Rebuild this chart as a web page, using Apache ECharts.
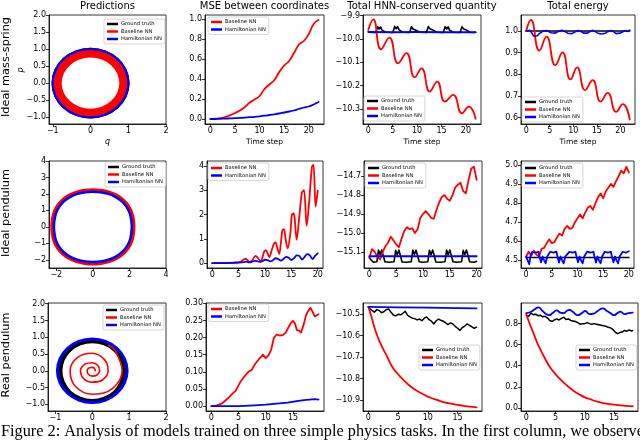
<!DOCTYPE html>
<html><head><meta charset="utf-8">
<script src="https://cdn.jsdelivr.net/npm/echarts@6/dist/echarts.min.js"></script>
<style>html,body{margin:0;padding:0;background:#fff}#c{width:640px;height:442px}</style>
</head><body><div id="c"></div>
<script>
// ================= DATA =================
const colTitles = ['Predictions','MSE between coordinates','Total HNN-conserved quantity','Total energy'];
const rowTitles = ['Ideal mass-spring','Ideal pendulum','Real pendulum'];
const names = ['Ground truth','Baseline NN','Hamiltonian NN'];
const caption = 'Figure 2: Analysis of models trained on three simple physics tasks. In the first column, we observe';

// --- Row 1: ideal mass-spring, phase space (q, p)
const msTrueQ = [0.924,1,0.924,0.707,0.383,0,-0.383,-0.707,-0.924,-1,-0.924,-0.707,-0.383,0,0.383,0.707,0.924,1,0.924];
const msTrueP = [-0.383,0,0.383,0.707,0.924,1,0.924,0.707,0.383,0,-0.383,-0.707,-0.924,-1,-0.924,-0.707,-0.383,0,0.383];
const msBaseQ = [0.804,0.87,0.804,0.615,0.333,0,-0.333,-0.615,-0.804,-0.87,-0.804,-0.615,-0.333,0,0.333,0.615,0.804,0.87,0.804];
const msBaseP = [-0.333,0,0.333,0.615,0.804,0.87,0.804,0.615,0.333,0,-0.333,-0.615,-0.804,-0.87,-0.804,-0.615,-0.333,0,0.333];
const msHnnQ = [0.929,1.005,0.929,0.711,0.385,0,-0.385,-0.711,-0.929,-1.005,-0.929,-0.711,-0.385,0,0.385,0.711,0.929,1.005,0.929];
const msHnnP = [-0.385,0,0.385,0.711,0.929,1.005,0.929,0.711,0.385,0,-0.385,-0.711,-0.929,-1.005,-0.929,-0.711,-0.385,0,0.385];

// --- Row 1: time series
const msT = [0,1,2,3,4,5,6,7,8,9,10,11,12,13,14,15,16,17,18,19,20,21,22];
const msMseBase = [0,0.003,0.008,0.02,0.037,0.06,0.085,0.12,0.165,0.195,0.23,0.3,0.345,0.39,0.47,0.535,0.58,0.66,0.745,0.78,0.85,0.95,0.99];
const msMseHnn = [0,0,0.002,0.004,0.006,0.008,0.011,0.014,0.018,0.022,0.027,0.033,0.04,0.047,0.055,0.065,0.075,0.085,0.1,0.115,0.125,0.145,0.17];

const msHqBaseT = [0,1,2.6,4.3,6.1,7.8,9.5,10.9,12.6,14.1,15.7,17.4,19.2,20.6,22];
const msHqBase = [-9.96,-9.916,-10.044,-9.994,-10.104,-10.061,-10.164,-10.126,-10.226,-10.183,-10.269,-10.24,-10.319,-10.29,-10.343];
const msHqTrueT = [0,0.5,1.0, 1.5,1.7,1.9,2.2,2.5,2.8,3.2,3.6, 5.0,5.2,5.4,5.7,6.0,6.3,6.7,7.1, 8.45,8.65,8.85,9.15,9.45,9.75,10.15,10.55, 11.9,12.1,12.3,12.6,12.9,13.2,13.6,14.0, 15.35,15.55,15.75,16.05,16.35,16.65,17.05,17.45, 18.8,19.0,19.2,19.5,19.8,20.1,20.5,20.9, 21.5,22];
const msHqTrue = [-9.968,-9.971,-9.972,
  -9.972,-9.979,-9.947,-9.957,-9.948,-9.962,-9.966,-9.971,
  -9.972,-9.98,-9.946,-9.956,-9.947,-9.961,-9.967,-9.971,
  -9.972,-9.979,-9.947,-9.957,-9.949,-9.962,-9.966,-9.971,
  -9.972,-9.98,-9.946,-9.956,-9.948,-9.961,-9.966,-9.971,
  -9.972,-9.979,-9.947,-9.957,-9.948,-9.962,-9.967,-9.971,
  -9.972,-9.98,-9.947,-9.956,-9.948,-9.962,-9.966,-9.971,
  -9.972,-9.971];
const msHqHnnT = [0,5,10,15,22];
const msHqHnn = [-9.970,-9.971,-9.970,-9.971,-9.971];

const msEnBaseT = [0,1,2.8,4.3,6.2,7.7,9.4,10.8,12.5,14.1,15.8,17.3,19.1,20.5,22];
const msEnBase = [1.0,1.051,0.909,0.974,0.842,0.901,0.776,0.832,0.727,0.773,0.673,0.714,0.626,0.662,0.59];
const msEnTrueT = [0,22];
const msEnTrue = [1.0,1.0];
const msEnHnnT = [0,0.8,1.2,1.6,2.0,2.4,2.8,3.2,3.6,4.2,4.8,5.3,5.7,6.1,6.5,7.0,7.6,8.2,8.8,9.2,9.6,10.0,10.5,11.0,11.6,12.2,12.6,13.0,13.4,14.0,14.6,15.2,15.6,16.0,16.4,16.8,17.3,18.0,18.6,19.1,19.5,19.9,20.4,21.0,21.6,22];
const msEnHnn = [1.0,1.003,0.99,0.976,0.983,0.978,0.988,0.992,1.0,1.002,0.998,0.992,0.985,0.99,0.995,1.0,1.003,0.998,0.99,0.982,0.987,0.985,0.997,1.002,0.999,0.99,0.984,0.99,0.995,1.003,0.998,0.99,0.983,0.986,0.982,0.99,0.997,1.002,0.996,0.988,0.983,0.99,0.995,1.001,0.998,1.004];

// --- Row 2: ideal pendulum, phase space
const pdTrueQ = [2.13,2.16,2.13,2.04,1.86,1.6,1.25,0.87,0.44,0,-0.44,-0.87,-1.25,-1.6,-1.86,-2.04,-2.13,-2.16,-2.13,-2.04,-1.86,-1.6,-1.25,-0.87,-0.44,0,0.44,0.87,1.25,1.6,1.86,2.04,2.13,2.16,2.13];
const pdTrueP = [-0.44,0,0.44,0.87,1.25,1.58,1.85,2.03,2.13,2.16,2.13,2.03,1.85,1.58,1.25,0.87,0.44,0,-0.44,-0.87,-1.25,-1.58,-1.85,-2.03,-2.13,-2.16,-2.13,-2.03,-1.85,-1.58,-1.25,-0.87,-0.44,0,0.44];
const pdBaseQ = [2.19,2.22,2.19,2.09,1.91,1.64,1.28,0.89,0.45,0,-0.45,-0.89,-1.28,-1.64,-1.91,-2.09,-2.19,-2.22,-2.19,-2.09,-1.91,-1.64,-1.28,-0.89,-0.45,0,0.45,0.89,1.28,1.64,1.91,2.09,2.19,2.22,2.19];
const pdBaseP = [-0.45,0,0.45,0.89,1.28,1.62,1.9,2.08,2.19,2.22,2.19,2.08,1.9,1.62,1.28,0.89,0.45,0,-0.45,-0.89,-1.28,-1.62,-1.9,-2.08,-2.19,-2.22,-2.19,-2.08,-1.9,-1.62,-1.28,-0.89,-0.45,0,0.45];
const pdHnnQ = [2.1,2.13,2.1,2.01,1.83,1.57,1.23,0.85,0.43,0,-0.43,-0.85,-1.23,-1.57,-1.83,-2.01,-2.1,-2.13,-2.1,-2.01,-1.83,-1.57,-1.23,-0.85,-0.43,0,0.43,0.85,1.23,1.57,1.83,2.01,2.1,2.13,2.1];
const pdHnnP = [-0.43,0,0.43,0.85,1.23,1.56,1.82,2.0,2.1,2.13,2.1,2.0,1.82,1.56,1.23,0.85,0.43,0,-0.43,-0.85,-1.23,-1.56,-1.82,-2.0,-2.1,-2.13,-2.1,-2.0,-1.82,-1.56,-1.23,-0.85,-0.43,0,0.43];

// --- Row 2: time series
const pdMseBaseT = [0,1,2,3,4,4.6,5,5.5,6.0,6.3,6.7,7.1,7.6,8.2,8.7,9.2,9.6,9.9,10.2,10.8,11.3,11.7,12.0,12.3,12.7,13.0,13.3,13.6,13.9,14.3,14.8,15.1,15.4,15.6,16.0,16.5,17.0,17.4,17.9,18.4,18.9,19.2,19.6,20];
const pdMseBase = [0,0,0.005,0.01,0.02,0.04,0.03,0.08,0.15,0.18,0.12,0.04,0.12,0.3,0.2,0.05,0.3,0.5,0.52,0.25,0.55,0.8,0.85,0.65,0.38,0.8,1.35,1.4,1.0,0.61,1.2,2.0,2.05,1.9,0.96,1.9,2.9,3.0,1.53,2.6,3.95,4.05,2.32,2.98];
const pdMseHnnT = [0,2,4,5,6,6.5,7,7.5,8,8.5,9,9.5,10,10.5,11,11.5,12,12.5,13,13.5,14,14.5,15,15.5,16,16.5,17,17.5,18,18.5,19,19.5,20];
const pdMseHnn = [0,0,0.01,0.02,0.04,0.06,0.03,0.05,0.09,0.08,0.05,0.08,0.14,0.12,0.07,0.12,0.2,0.17,0.1,0.17,0.26,0.22,0.13,0.2,0.32,0.3,0.15,0.25,0.37,0.32,0.17,0.3,0.4];

const pdHqBaseT = [0,0.5,1,1.5,2,2.5,3,3.5,4,4.5,5,5.5,6,6.5,7,7.5,8,8.5,9,9.5,10,10.5,11,11.5,12,12.5,13,13.5,14,14.5,15,15.5,16,16.5,17,17.5,18,18.5,19,19.5,20];
const pdHqBase = [-15.13,-15.085,-15.1,-15.125,-15.14,-15.1,-15.07,-15.05,-15.02,-15.04,-15.06,-15.075,-15.03,-14.99,-14.97,-14.98,-14.975,-15.0,-14.98,-14.92,-14.9,-14.885,-14.9,-14.92,-14.925,-14.88,-14.84,-14.81,-14.8,-14.82,-14.83,-14.8,-14.76,-14.745,-14.735,-14.78,-14.79,-14.72,-14.66,-14.65,-14.72];
const pdHqTrueT = [0,0.4,0.8, 1.4,1.7,2.0,2.3,2.6,2.9,3.7, 4.6,4.9,5.2,5.5,5.8,6.1,6.9, 7.8,8.1,8.4,8.7,9.0,9.3,10.0, 10.9,11.2,11.5,11.8,12.1,12.4,13.2, 14.1,14.4,14.7,15.0,15.3,15.6,16.3, 17.2,17.5,17.8,18.1,18.4,18.7,19.5, 20];
const pdHqTrue = [-15.13,-15.145,-15.155,
  -15.152,-15.09,-15.115,-15.09,-15.12,-15.152,-15.155,
  -15.152,-15.092,-15.116,-15.09,-15.12,-15.153,-15.155,
  -15.152,-15.09,-15.114,-15.091,-15.12,-15.152,-15.155,
  -15.152,-15.091,-15.115,-15.09,-15.12,-15.153,-15.155,
  -15.152,-15.09,-15.116,-15.09,-15.121,-15.152,-15.155,
  -15.152,-15.091,-15.115,-15.09,-15.12,-15.152,-15.155,
  -15.15];
const pdHqHnnT = [0,20];
const pdHqHnn = [-15.123,-15.123];

const pdEnBaseT = [0,0.5,1,1.5,2,2.5,3,3.5,4,4.5,5,5.5,6,6.5,7,7.5,8,8.5,9,9.5,10,10.5,11,11.5,12,12.5,13,13.5,14,14.5,15,15.5,16,16.5,17,17.5,18,18.5,19,19.5,20];
const pdEnBase = [4.52,4.545,4.525,4.55,4.53,4.52,4.56,4.565,4.59,4.61,4.59,4.595,4.62,4.64,4.63,4.665,4.68,4.665,4.67,4.7,4.72,4.74,4.72,4.75,4.775,4.785,4.765,4.8,4.83,4.85,4.825,4.86,4.88,4.9,4.885,4.915,4.94,4.97,4.955,4.99,4.96];
const pdEnTrueT = [0,20];
const pdEnTrue = [4.515,4.515];
const pdEnHnnT = [0,0.3,0.6,0.9, 1.2,1.8,2.4,2.6,2.9,3.2,3.5,3.8,4.1, 4.7,5.3,5.9,6.1,6.4,6.7,7.0,7.3,7.6, 8.4,9.0,9.6,9.8,10.1,10.4,10.7,11.0,11.3, 11.9,12.5,13.1,13.3,13.6,13.9,14.2,14.5,14.8, 15.3,15.9,16.5,16.7,17.0,17.3,17.6,17.9,18.2, 18.8,19.4,20];
const pdEnHnn = [4.52,4.5,4.48,4.53,
  4.545,4.54,4.545,4.52,4.49,4.52,4.5,4.485,4.52,
  4.545,4.54,4.546,4.52,4.488,4.52,4.5,4.484,4.52,
  4.544,4.54,4.545,4.52,4.49,4.52,4.5,4.485,4.52,
  4.546,4.54,4.545,4.52,4.489,4.52,4.5,4.485,4.52,
  4.545,4.54,4.545,4.52,4.49,4.52,4.5,4.484,4.52,
  4.545,4.54,4.548];

// --- Row 3: real pendulum, phase space
const rpTrueQ = [0.804,0.87,0.804,0.615,0.333,0,-0.333,-0.615,-0.804,-0.87,-0.804,-0.615,-0.333,0,0.333,0.615,0.804,0.87,0.804];
const rpTrueP = [-0.34,0,0.34,0.63,0.82,0.89,0.82,0.63,0.34,0,-0.35,-0.65,-0.84,-0.91,-0.84,-0.65,-0.35,0,0.34];
const rpBaseQ = [0.44,0.615,0.81,0.537,0,-0.46,-0.6,-0.396,0,0.332,0.43,0.276,0,-0.233,-0.32,-0.198,0,0.156,0.2,0.127,0,-0.106,-0.14,-0.085,0,0.064,0.08];
const rpBaseP = [0.762,0.615,0,-0.537,-0.7,-0.46,0,0.396,0.52,0.332,0,-0.276,-0.34,-0.233,0,0.198,0.24,0.156,0,-0.127,-0.16,-0.106,0,0.085,0.1,0.064,0];
const rpHnnQ = [0.873,0.945,0.873,0.668,0.362,0,-0.362,-0.668,-0.873,-0.945,-0.873,-0.668,-0.362,0,0.362,0.668,0.873,0.945,0.873];
const rpHnnP = [-0.362,0,0.362,0.668,0.873,0.945,0.873,0.668,0.362,0,-0.362,-0.668,-0.873,-0.945,-0.873,-0.668,-0.362,0,0.362];

// --- Row 3: time series
const rpMseBaseT = [0,1,2,3,3.8,4.5,5.3,6.0,6.8,7.4,8.0,8.8,9.5,10.0,10.5,11.0,11.5,12.0,12.6,13.2,13.7,14.1,14.6,15.0,15.4,15.7,16.1,16.5,17.0,17.4,17.7,18.2,18.6,19.0,19.3,19.7];
const rpMseBase = [0,0.002,0.008,0.022,0.035,0.045,0.07,0.085,0.1,0.105,0.122,0.138,0.15,0.14,0.148,0.165,0.2,0.209,0.206,0.208,0.215,0.228,0.242,0.249,0.24,0.222,0.22,0.215,0.24,0.265,0.275,0.287,0.275,0.262,0.258,0.268];
const rpMseHnnT = [0,5,8,10,12,14,16,17,18,19,19.7];
const rpMseHnn = [0,0,0.002,0.004,0.007,0.01,0.015,0.017,0.019,0.02,0.019];

const rpHqBaseT = [0,0.5,1,1.5,2,3,4,5,6,7,8,9,10,11,12,13,14,15,16,17,18.2];
const rpHqBase = [-10.465,-10.51,-10.56,-10.6,-10.635,-10.69,-10.745,-10.78,-10.81,-10.835,-10.855,-10.87,-10.885,-10.895,-10.905,-10.913,-10.918,-10.923,-10.928,-10.932,-10.935];
const rpHqTrueT = [0,0.3,0.6,1.0,1.4,1.8,2.2,2.6,3.0,3.4,3.8,4.2,4.6,5.0,5.4,5.8,6.2,6.6,7.0,7.4,7.8,8.2,8.6,9.0,9.4,9.8,10.2,10.6,11.0,11.4,11.8,12.2,12.6,13.0,13.4,13.8,14.2,14.6,15.0,15.4,15.8,16.2,16.6,17.0,17.4,17.8,18.2];
const rpHqTrue = [-10.465,-10.475,-10.483,-10.49,-10.478,-10.482,-10.492,-10.488,-10.478,-10.475,-10.49,-10.503,-10.507,-10.5,-10.502,-10.495,-10.486,-10.505,-10.512,-10.518,-10.52,-10.526,-10.522,-10.53,-10.518,-10.512,-10.525,-10.532,-10.545,-10.53,-10.522,-10.528,-10.532,-10.54,-10.548,-10.54,-10.545,-10.556,-10.565,-10.575,-10.562,-10.555,-10.545,-10.552,-10.558,-10.566,-10.56];
const rpHqHnnT = [0,5,10,15,18.2];
const rpHqHnn = [-10.465,-10.467,-10.469,-10.471,-10.472];

const rpEnBaseT = [0,0.5,1,1.5,2,3,4,5,6,7,8,9,10,11,12,13,14,15,16,17,18.2];
const rpEnBase = [0.89,0.81,0.74,0.67,0.6,0.49,0.39,0.32,0.26,0.21,0.165,0.13,0.1,0.08,0.062,0.048,0.038,0.03,0.024,0.019,0.015];
const rpEnTrueT = [0,0.4,0.8,1.2,1.6,2.0,2.4,2.8,3.2,3.6,4.0,4.4,4.8,5.2,5.6,6.0,6.4,6.8,7.2,7.6,8.0,8.4,8.8,9.2,9.6,10.0,10.4,10.8,11.2,11.6,12.0,12.4,12.8,13.2,13.6,14.0,14.4,14.8,15.2,15.6,16.0,16.4,16.8,17.2,17.6,18.0,18.2];
const rpEnTrue = [0.88,0.87,0.9,0.885,0.89,0.875,0.88,0.865,0.87,0.855,0.83,0.82,0.835,0.845,0.835,0.85,0.86,0.84,0.845,0.83,0.825,0.82,0.81,0.795,0.8,0.8,0.81,0.8,0.795,0.8,0.795,0.79,0.785,0.78,0.775,0.765,0.76,0.745,0.72,0.705,0.715,0.72,0.735,0.728,0.74,0.73,0.735];
const rpEnHnnT = [0,0.7,1.4,2.1,2.7,3.3,3.9,4.5,5.2,5.8,6.4,7.0,7.4,8.0,8.8,9.5,10.1,10.8,11.5,12.2,13.1,13.8,14.5,15.0,15.6,16.1,16.8,17.5,18.2];
const rpEnHnn = [0.9,0.91,0.935,0.955,0.925,0.895,0.88,0.9,0.925,0.905,0.9,0.925,0.93,0.91,0.88,0.9,0.92,0.89,0.895,0.92,0.945,0.92,0.895,0.88,0.9,0.915,0.89,0.9,0.905];

// --- Tick labels
const tkPhase1X = [-1,0,1,2], tkPhase1Y = [-1,-0.5,0,0.5,1,1.5,2];
const tkPhase2X = [-2,0,2,4], tkPhase2Y = [-2,-1,0,1,2,3,4];
const tkT22 = [0,5,10,15,20], tkT20 = [0,5,10,15,20], tkT18 = [0,5,10,15];
const tkMse1 = [0,0.2,0.4,0.6,0.8,1.0];
const tkHq1 = [-10.3,-10.2,-10.1,-10.0,-9.9];
const tkEn1 = [0.6,0.7,0.8,0.9,1.0];
const tkMse2 = [0,1,2,3,4];
const tkHq2 = [-15.1,-15.0,-14.9,-14.8,-14.7];
const tkEn2 = [4.5,4.6,4.7,4.8,4.9,5.0];
const tkMse3 = [0,0.05,0.1,0.15,0.2,0.25,0.3];
const tkHq3 = [-10.9,-10.8,-10.7,-10.6,-10.5];
const tkEn3 = [0,0.2,0.4,0.6,0.8];

// ================= CHART =================
const COL = {'Ground truth':'#000000','Baseline NN':'#ff0000','Hamiltonian NN':'#0000ff'};
const FONT = 'DejaVu Sans';
const pairs = (a, b) => a.map((x, i) => [x, b[i]]);
const fmt = d => v => (v < 0 ? '\u2212' : '') + Math.abs(v).toFixed(d);

// panel layout: [left, top, width, height]
const boxes = [
  [49,15,117,109],[205,15,119,109],[363,15,118,109],[521,15,114,109],
  [49,161,117,107],[207,161,116,107],[364,161,118,107],[521,161,113,107],
  [48,303,118,108],[206,303,118,108],[363,303,119,108],[521,303,117,108]
];
const ranges = [ // xmin,xmax,ymin,ymax
  [-1.1,2.0,-1.2,2.0],[-1.1,23.1,-0.05,1.04],[-1.1,23.1,-10.365,-9.897],[-1.1,23.1,0.57,1.074],
  [-2.4,4,-2.5,4],[-1,21,-0.2,4.2],[-1,21,-15.185,-14.62],[-1,21,4.46,5.02],
  [-1.2,2.0,-1.2,2.02],[-0.985,20.7,-0.0145,0.301],[-0.91,19.11,-10.952,-10.447],[-0.91,19.11,-0.03,0.996]
];
const xt = [[tkPhase1X,0],[tkT22,0],[tkT22,0],[tkT22,0],[tkPhase2X,0],[tkT20,0],[tkT20,0],[tkT20,0],[tkPhase1X,0],[tkT18,0],[tkT18,0],[tkT18,0]];
const yt = [[tkPhase1Y,1],[tkMse1,1],[tkHq1,1],[tkEn1,1],[tkPhase2Y,0],[tkMse2,0],[tkHq2,1],[tkEn2,1],[tkPhase1Y,1],[tkMse3,2],[tkHq3,1],[tkEn3,1]];

function axis(i, min, max, ticks, dec) {
  return {
    type:'value', gridIndex:i, min, max, scale:true,
    axisLine:{show:true, onZero:false, lineStyle:{color:'#000', width:0.8}},
    axisTick:{show:true, customValues:ticks, length:3, inside:false, lineStyle:{color:'#000', width:0.8}},
    axisLabel:{show:true, customValues:ticks, formatter:fmt(dec), fontSize:8, color:'#000', margin:3, fontFamily:FONT},
    splitLine:{show:false}
  };
}
const grid = boxes.map(b => ({left:b[0], top:b[1], width:b[2], height:b[3], show:true, borderColor:'#000', borderWidth:0.8, backgroundColor:'rgba(0,0,0,0)', containLabel:false}));
const xAxis = boxes.map((b, i) => axis(i, ranges[i][0], ranges[i][1], xt[i][0], xt[i][1]));
const yAxis = boxes.map((b, i) => axis(i, ranges[i][2], ranges[i][3], yt[i][0], yt[i][1]));

const series = [];
function add(i, name, t, v, w, smooth) {
  series.push({type:'line', name, xAxisIndex:i, yAxisIndex:i, data:pairs(t, v), symbol:'none', showSymbol:false,
    smooth: smooth || false, lineStyle:{color:COL[name], width:w, join:'round', cap:'round'}, itemStyle:{color:COL[name]},
    silent:true, animation:false});
}
const RING = 0.34, SPIRAL = 0.37;
// row 1
add(0, names[0], msTrueQ, msTrueP, 2.5, RING);
add(0, names[1], msBaseQ, msBaseP, 8, RING);
add(0, names[2], msHnnQ, msHnnP, 2.3, RING);
add(1, names[1], msT, msMseBase, 1.8, true);
add(1, names[2], msT, msMseHnn, 1.8, true);
add(2, names[0], msHqTrueT, msHqTrue, 1.6, false);
add(2, names[1], msHqBaseT, msHqBase, 1.8, true);
add(2, names[2], msHqHnnT, msHqHnn, 1.8, false);
add(3, names[0], msEnTrueT, msEnTrue, 1.6, false);
add(3, names[1], msEnBaseT, msEnBase, 1.8, true);
add(3, names[2], msEnHnnT, msEnHnn, 1.6, false);
// row 2
add(4, names[0], pdTrueQ, pdTrueP, 2.5, RING);
add(4, names[1], pdBaseQ, pdBaseP, 4, RING);
add(4, names[2], pdHnnQ, pdHnnP, 2.5, RING);
add(5, names[1], pdMseBaseT, pdMseBase, 1.8, 0.3);
add(5, names[2], pdMseHnnT, pdMseHnn, 1.8, 0.3);
add(6, names[0], pdHqTrueT, pdHqTrue, 1.6, false);
add(6, names[1], pdHqBaseT, pdHqBase, 1.8, false);
add(6, names[2], pdHqHnnT, pdHqHnn, 1.8, false);
add(7, names[0], pdEnTrueT, pdEnTrue, 1.6, false);
add(7, names[1], pdEnBaseT, pdEnBase, 1.8, false);
add(7, names[2], pdEnHnnT, pdEnHnn, 1.8, false);
// row 3
add(8, names[0], rpTrueQ, rpTrueP, 4.5, RING);
add(8, names[1], rpBaseQ, rpBaseP, 1.6, SPIRAL);
add(8, names[2], rpHnnQ, rpHnnP, 3, RING);
add(9, names[1], rpMseBaseT, rpMseBase, 1.8, false);
add(9, names[2], rpMseHnnT, rpMseHnn, 1.8, false);
add(10, names[0], rpHqTrueT, rpHqTrue, 1.5, false);
add(10, names[1], rpHqBaseT, rpHqBase, 1.8, true);
add(10, names[2], rpHqHnnT, rpHqHnn, 1.8, false);
add(11, names[0], rpEnTrueT, rpEnTrue, 1.5, false);
add(11, names[1], rpEnBaseT, rpEnBase, 1.8, true);
add(11, names[2], rpEnHnnT, rpEnHnn, 1.8, true);

function legend(left, top, data) {
  return {left, top, data, orient:'vertical', icon:'rect', itemWidth:11, itemHeight:2.5, itemGap:1.5,
    selectedMode:false, padding:[2,3,2,3], backgroundColor:'rgba(255,255,255,0.85)', borderColor:'#cccccc', borderWidth:0.8, borderRadius:2,
    textStyle:{fontSize:5.2, lineHeight:6, fontFamily:FONT, color:'#000', padding:[0,0,0,-2]}};
}
const three = names, two = names.slice(1);
const legends = [
  legend(104,19,three), legend(208,17,two), legend(364,96,three), legend(522,97,three),
  legend(105,162,three), legend(208,163,two), legend(365,163,three), legend(522,163,three),
  legend(103,305,three), legend(208,304,two), legend(419,345,three), legend(576,345,three)
];

const txt = (x, y, text, size, extra) => Object.assign({type:'text', x, y, silent:true,
  style:Object.assign({text, fontSize:size, fontFamily:FONT, fill:'#000', align:'center', verticalAlign:'middle'}, (extra||{}).style||{})},
  extra && extra.rotation !== undefined ? {rotation:extra.rotation} : {});
const centers = [107.5, 264.5, 422, 578];
const graphic = [];
colTitles.forEach((t, i) => graphic.push(txt(centers[i], 6, t, 10)));
[67, 213, 355].forEach((y, i) => graphic.push(txt(6, y, rowTitles[i], 11.3, {rotation:Math.PI/2})));
graphic.push(txt(107.5, 142, 'q', 8, {style:{fontStyle:'italic'}}));
graphic.push(txt(21, 70, 'p', 8, {rotation:Math.PI/2, style:{fontStyle:'italic'}}));
[264.5, 422, 578].forEach(x => graphic.push(txt(x, 142, 'Time step', 7.5)));
graphic.push({type:'text', x:1, y:432, silent:true, style:{text:caption, fontSize:16.3, fontFamily:'Liberation Serif', fill:'#000', align:'left', verticalAlign:'middle'}});

const chart = echarts.init(document.getElementById('c'), null, {renderer:'canvas'});
chart.setOption({animation:false, backgroundColor:'#fff', grid, xAxis, yAxis, series, legend:legends, graphic});
</script>
</body></html>
